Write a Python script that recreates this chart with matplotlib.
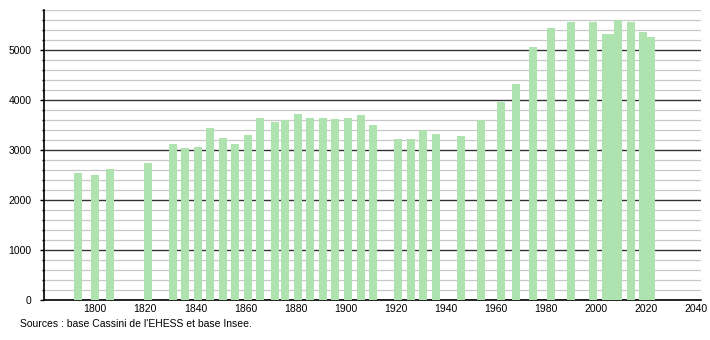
import matplotlib.pyplot as plt
from matplotlib.ticker import MultipleLocator

plt.rcParams['font.family'] = ['Liberation Sans', 'DejaVu Sans']

# census years and population
years = [1793, 1800, 1806, 1821, 1831, 1836, 1841, 1846, 1851, 1856,
         1861, 1866, 1872, 1876, 1881, 1886, 1891, 1896, 1901, 1906,
         1911, 1921, 1926, 1931, 1936, 1946, 1954, 1962, 1968, 1975,
         1982, 1990, 1999, 2004, 2006, 2009, 2014, 2019, 2022]
population = [2540, 2500, 2620, 2740, 3127, 3040, 3060, 3440, 3240, 3127,
              3300, 3640, 3560, 3600, 3720, 3640, 3640, 3620, 3640, 3700,
              3500, 3220, 3225, 3393, 3320, 3280, 3600, 3960, 4320, 5060,
              5440, 5560, 5560, 5320, 5320, 5593, 5560, 5360, 5260]
x_ticks = list(range(1800, 2041, 20))
source_text = "Sources : base Cassini de l'EHESS et base Insee."

fig = plt.figure(figsize=(7.1, 3.4), dpi=100)
ax = fig.add_axes([0.062, 0.1176, 0.925, 0.853])

ax.bar(years, population, width=3.2, color='#aee2ae', zorder=3)

ax.set_xlim(1779.5, 2042)
ax.set_ylim(0, 5800)
ax.yaxis.set_major_locator(MultipleLocator(1000))
ax.yaxis.set_minor_locator(MultipleLocator(200))
ax.set_xticks(x_ticks)

ax.grid(which='minor', axis='y', color='#c8c8c8', linewidth=0.9, zorder=1)
ax.grid(which='major', axis='y', color='#333333', linewidth=1.0, zorder=2)
ax.set_axisbelow(True)

for side in ['top', 'right']:
    ax.spines[side].set_visible(False)
ax.spines['left'].set_linewidth(1.2)
ax.spines['bottom'].set_linewidth(1.2)

ax.tick_params(axis='y', which='major', length=3, width=1, pad=6, labelsize=7.5)
ax.tick_params(axis='y', which='minor', length=1.5, width=1)
ax.tick_params(axis='x', length=0, pad=3, labelsize=7.5)

fig.text(0.028, 0.032, source_text, fontsize=7.5, ha='left', va='bottom')

fig.savefig('out.png', dpi=100)
